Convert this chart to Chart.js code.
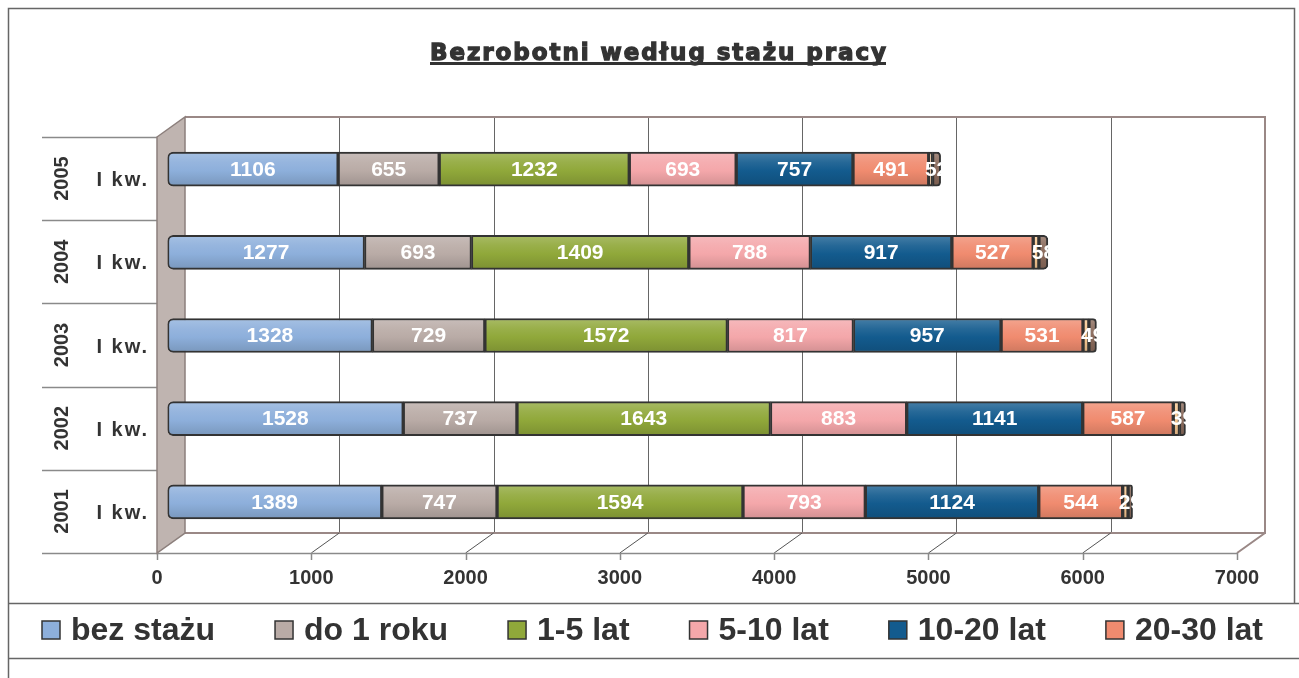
<!DOCTYPE html>
<html>
<head>
<meta charset="utf-8">
<script src="https://cdn.jsdelivr.net/npm/chart.js@4.4.0/dist/chart.umd.min.js"></script>
<style>
html, body { margin: 0; padding: 0; background: #fff; }
canvas { display: block; }
</style>
</head>
<body>
<canvas id="chart" width="1299" height="678"></canvas>
<script>
// dane: bezrobotni wg stażu pracy, I kwartał
const years = ['2001', '2002', '2003', '2004', '2005'];
const quarterLabel = 'I kw.';
const seriesNames = ['bez stażu', 'do 1 roku', '1-5 lat', '5-10 lat', '10-20 lat', '20-30 lat', '30 lat i więcej', 'brak danych'];
const bezStazu = [1389, 1528, 1328, 1277, 1106];
const do1Roku = [747, 737, 729, 693, 655];
const lat1do5 = [1594, 1643, 1572, 1409, 1232];
const lat5do10 = [793, 883, 817, 788, 693];
const lat10do20 = [1124, 1141, 957, 917, 757];
const lat20do30 = [544, 587, 531, 527, 491];
const lat30plus = [35, 40, 38, 37, 25];
const brakDanych = [29, 39, 49, 58, 52];
const xMax = 7000;
const xStep = 1000;

const colors = ['#8dafdb', '#b9aba6', '#90a83a', '#f4a7aa', '#135b8e', '#f08b6f', '#f6c690', '#8b6b5c'];
const legendCount = 6;
const FONT = "'Liberation Sans', Arial, sans-serif";
const TEXT = '#333333';

// przesunięcia "3D"
const DEPTH_X = 28, DEPTH_Y = -20;
const BAR_X = 10.5, BAR_Y = -9.5;

function shade(hex, f) {
    const n = parseInt(hex.slice(1), 16);
    let r = n >> 16, g = (n >> 8) & 255, b = n & 255;
    const t = f < 0 ? 0 : 255, p = Math.abs(f);
    r = Math.round((t - r) * p + r);
    g = Math.round((t - g) * p + g);
    b = Math.round((t - b) * p + b);
    return `rgb(${r},${g},${b})`;
}

function barFill(base) {
    return (ctx) => {
        const chart = ctx.chart;
        if (!chart.chartArea || ctx.type !== 'data') return base;
        const y = chart.scales.y.getPixelForValue(ctx.dataIndex);
        const g = chart.ctx.createLinearGradient(0, y - 17, 0, y + 17);
        g.addColorStop(0, shade(base, 0.22));
        g.addColorStop(0.3, shade(base, 0.08));
        g.addColorStop(0.55, base);
        g.addColorStop(1, shade(base, -0.14));
        return g;
    };
}

const allSeries = [bezStazu, do1Roku, lat1do5, lat5do10, lat10do20, lat20do30, lat30plus, brakDanych];
const datasets = allSeries.map((values, i) => ({
    label: seriesNames[i],
    data: values,
    backgroundColor: barFill(colors[i]),
    borderColor: '#333333',
    borderWidth: 2,
    borderSkipped: false,
    borderRadius: i === 0 ? { topLeft: 6, bottomLeft: 6, topRight: 0, bottomRight: 0 }
        : (i === allSeries.length - 1 ? { topLeft: 0, bottomLeft: 0, topRight: 6, bottomRight: 6 } : 0),
    barThickness: 34
}));

const chartFrame = {
    id: 'chartFrame',
    beforeDraw(chart) {
        const ctx = chart.ctx;
        const { top, bottom } = chart.chartArea;
        const yScale = chart.scales.y;
        ctx.save();
        ctx.fillStyle = '#fff';
        ctx.fillRect(0, 0, chart.width, chart.height);

        // ramka
        ctx.strokeStyle = '#666';
        ctx.lineWidth = 1.5;
        ctx.beginPath();
        ctx.moveTo(8.5, 678); ctx.lineTo(8.5, 8.5); ctx.lineTo(1294.5, 8.5); ctx.lineTo(1294.5, 603.5);
        ctx.moveTo(8.5, 603.5); ctx.lineTo(1299, 603.5);
        ctx.moveTo(8.5, 658.5); ctx.lineTo(1299, 658.5);
        ctx.stroke();

        // tytuł
        const title = 'Bezrobotni według stażu pracy';
        ctx.font = `bold 23px 'DejaVu Sans', ${FONT}`;
        const w0 = ctx.measureText(title).width;
        const spacing = (456 - w0) / (title.length - 1);
        ctx.letterSpacing = spacing + 'px';
        const tw = ctx.measureText(title).width - spacing;
        ctx.fillStyle = TEXT;
        ctx.strokeStyle = TEXT;
        ctx.lineWidth = 1.3;
        ctx.textBaseline = 'alphabetic';
        ctx.textAlign = 'left';
        const tx = 658 - tw / 2;
        ctx.fillText(title, tx, 60);
        ctx.strokeText(title, tx, 60);
        ctx.fillRect(tx, 62, tw, 3);
        ctx.letterSpacing = '0px';

        // etykiety kategorii
        const band = (bottom - top) / years.length;
        ctx.strokeStyle = '#8a8a8a';
        ctx.lineWidth = 1.5;
        ctx.beginPath();
        for (let k = 0; k <= years.length; k++) {
            const y = Math.round(top + k * band) + 0.5;
            ctx.moveTo(42, y);
            ctx.lineTo(157, y);
        }
        ctx.stroke();

        ctx.font = `bold 20px ${FONT}`;
        years.forEach((year, i) => {
            const yc = yScale.getPixelForValue(i);
            ctx.save();
            ctx.translate(61, yc);
            ctx.rotate(-Math.PI / 2);
            ctx.textAlign = 'center';
            ctx.textBaseline = 'middle';
            ctx.fillText(year, 0, 1);
            ctx.restore();
            ctx.letterSpacing = '2px';
            ctx.textAlign = 'right';
            ctx.textBaseline = 'middle';
            ctx.fillText(quarterLabel, 149, yc + 2);
            ctx.letterSpacing = '0px';
        });

        // legenda
        ctx.font = `bold 32px ${FONT}`;
        ctx.textAlign = 'left';
        ctx.textBaseline = 'middle';
        let lx = 42;
        for (let i = 0; i < legendCount; i++) {
            ctx.fillStyle = colors[i];
            ctx.fillRect(lx, 621, 18, 18);
            ctx.strokeStyle = '#333';
            ctx.lineWidth = 1.5;
            ctx.strokeRect(lx, 621, 18, 18);
            ctx.fillStyle = TEXT;
            ctx.fillText(seriesNames[i], lx + 29, 631);
            lx += 29 + ctx.measureText(seriesNames[i]).width + 60;
        }
        ctx.restore();
    },
    beforeDatasetsDraw(chart) {
        const ctx = chart.ctx;
        const { left, right, top, bottom } = chart.chartArea;
        const xScale = chart.scales.x;
        ctx.save();
        // tylna ściana - linie siatki
        ctx.strokeStyle = '#666';
        ctx.lineWidth = 1;
        ctx.beginPath();
        for (let v = xStep; v < xMax; v += xStep) {
            const x = Math.round(xScale.getPixelForValue(v) + DEPTH_X) + 0.5;
            ctx.moveTo(x, top + DEPTH_Y);
            ctx.lineTo(x, bottom + DEPTH_Y);
        }
        ctx.stroke();

        ctx.strokeStyle = '#9a8886';
        ctx.lineWidth = 2;
        ctx.beginPath();
        ctx.moveTo(left + DEPTH_X, top + DEPTH_Y);
        ctx.lineTo(right + DEPTH_X, top + DEPTH_Y);
        ctx.lineTo(right + DEPTH_X, bottom + DEPTH_Y);
        ctx.lineTo(left + DEPTH_X, bottom + DEPTH_Y);
        ctx.moveTo(right + DEPTH_X, bottom + DEPTH_Y);
        ctx.lineTo(right, bottom);
        ctx.stroke();

        // podłoga: skosy przy liniach siatki
        ctx.strokeStyle = '#555';
        ctx.lineWidth = 1;
        ctx.beginPath();
        for (let v = xStep; v < xMax; v += xStep) {
            const x = xScale.getPixelForValue(v);
            ctx.moveTo(x, bottom);
            ctx.lineTo(x + DEPTH_X, bottom + DEPTH_Y);
        }
        ctx.stroke();

        // oś - linia frontowa i znaczniki
        ctx.strokeStyle = '#8a8a8a';
        ctx.lineWidth = 1.5;
        ctx.beginPath();
        ctx.moveTo(left, bottom + 0.5);
        ctx.lineTo(right, bottom + 0.5);
        for (let v = 0; v <= xMax; v += xStep) {
            const x = Math.round(xScale.getPixelForValue(v)) + 0.5;
            ctx.moveTo(x, bottom);
            ctx.lineTo(x, bottom + 7);
        }
        ctx.stroke();

        // lewa ściana
        ctx.fillStyle = '#bfb4b0';
        ctx.strokeStyle = '#8c7f7c';
        ctx.lineWidth = 1.5;
        ctx.beginPath();
        ctx.moveTo(left, top);
        ctx.lineTo(left + DEPTH_X, top + DEPTH_Y);
        ctx.lineTo(left + DEPTH_X, bottom + DEPTH_Y);
        ctx.lineTo(left, bottom);
        ctx.closePath();
        ctx.fill();
        ctx.stroke();
        ctx.restore();

        ctx.save();
        ctx.translate(BAR_X, BAR_Y);
    },
    afterDatasetsDraw(chart) {
        const ctx = chart.ctx;
        ctx.font = `bold 21px ${FONT}`;
        ctx.fillStyle = '#fff';
        ctx.textAlign = 'center';
        ctx.textBaseline = 'middle';
        const last = chart.data.datasets.length - 1;
        chart.data.datasets.forEach((ds, i) => {
            if (i === last - 1) return;
            chart.getDatasetMeta(i).data.forEach((bar, j) => {
                const cx = (bar.x + bar.base) / 2;
                if (i === last) {
                    ctx.save();
                    ctx.beginPath();
                    ctx.rect(0, bar.y - 20, bar.x + 1, 40);
                    ctx.clip();
                    ctx.fillText(String(ds.data[j]), cx, bar.y + 1);
                    ctx.restore();
                } else {
                    ctx.fillText(String(ds.data[j]), cx, bar.y + 1);
                }
            });
        });
        ctx.restore();
    }
};

new Chart(document.getElementById('chart'), {
    type: 'bar',
    data: { labels: years, datasets },
    options: {
        indexAxis: 'y',
        responsive: false,
        animation: false,
        layout: { padding: { top: 137, right: 62, bottom: 75, left: 0 } },
        plugins: {
            legend: { display: false },
            tooltip: { enabled: false },
            title: { display: false }
        },
        scales: {
            x: {
                stacked: true,
                min: 0,
                max: xMax,
                ticks: {
                    stepSize: xStep,
                    color: TEXT,
                    font: { family: FONT, size: 20, weight: 'bold' },
                    padding: 13,
                    maxRotation: 0,
                    callback: (v) => String(v)
                },
                grid: { display: false, drawTicks: false },
                border: { display: false },
                afterFit: (s) => { s.height = 50; }
            },
            y: {
                stacked: true,
                reverse: true,
                ticks: { display: false },
                grid: { display: false },
                border: { display: false },
                afterFit: (s) => { s.width = 157; }
            }
        }
    },
    plugins: [chartFrame]
});
</script>
</body>
</html>
